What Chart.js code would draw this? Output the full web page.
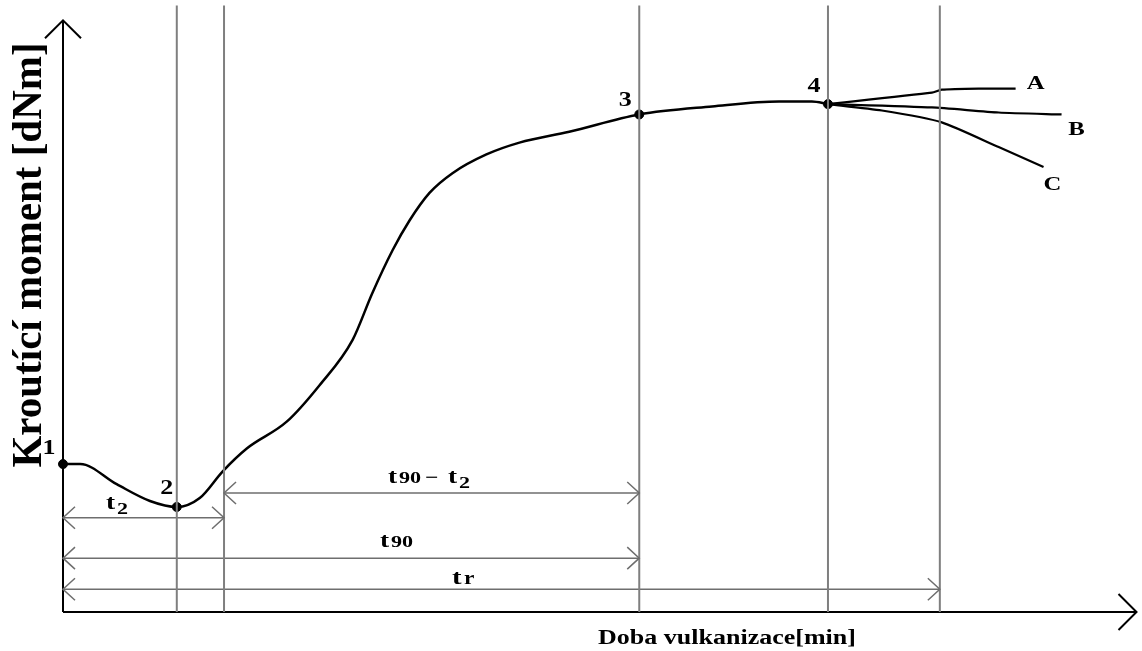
<!DOCTYPE html>
<html lang="cs">
<head>
<meta charset="UTF-8">
<title>Vulkanizační křivka</title>
<style>
    html, body { margin: 0; padding: 0; background: #fff; }
    #wrap { width: 1142px; height: 651px; }
</style>
</head>
<body>
<div id="wrap"><canvas id="curve" width="1142" height="651"></canvas></div>
<script src="https://cdn.jsdelivr.net/npm/chart.js"></script>
<script>
// schematic rheometer curve, time [min] vs torque [dNm]
const timeMain   = [0, 0.8, 2.5, 4.05, 5.3, 6.37, 7.44, 8.56, 10.42, 11.95, 13.49, 14.4, 15.35, 16.14, 17.07, 18.14, 19.72, 21.26, 23.58, 26.84, 30.23, 33.35, 34.88, 35.63];
const torqueMain = [15.0, 15.0, 12.96, 11.26, 10.65, 11.56, 14.27, 16.58, 19.3, 23.0, 27.6, 32.3, 36.68, 39.7, 42.5, 44.5, 46.4, 47.6, 48.7, 50.45, 51.26, 51.76, 51.76, 51.5];

// reversion branches after point 4
const timeA   = [35.63, 40.47, 40.93, 42.65, 44.37];
const torqueA = [51.5, 52.66, 52.96, 53.07, 53.07];
const timeB   = [35.63, 40.47, 43.58, 46.51];
const torqueB = [51.5, 51.16, 50.65, 50.45];
const timeC   = [35.63, 38.14, 40.93, 43.58, 45.67];
const torqueC = [51.5, 50.85, 49.65, 47.14, 45.13];

// marked points 1..4
const pointNames  = ['1', '2', '3', '4'];
const pointTime   = [0, 5.3, 26.84, 35.63];
const pointTorque = [15.0, 10.65, 50.45, 51.5];

// vertical guide lines (min)
const guideTimes = [5.3, 7.5, 26.84, 35.63, 40.84];

// dimension arrows
const dimNames = ['t2', 't90-t2', 't90', 'tr'];
const dimStart = [0, 7.5, 0, 0];
const dimEnd   = [7.5, 26.84, 26.84, 40.84];
const dimLevel = [9.55, 12.06, 5.46, 2.31];

const branchNames = ['A', 'B', 'C'];

const xMax = 50, yMax = 61.5, yAxisTop = 60;

function pts(xs, ys) {
    return xs.map((x, i) => ({ x: x, y: ys[i] }));
}

const datasets = [];

guideTimes.forEach(t => {
    datasets.push({
        data: [{ x: t, y: 0 }, { x: t, y: yMax }],
        borderColor: '#7f7f7f', borderWidth: 2, pointRadius: 0, clip: false
    });
});

dimNames.forEach((n, i) => {
    datasets.push({
        data: [{ x: dimStart[i], y: dimLevel[i] }, { x: dimEnd[i], y: dimLevel[i] }],
        borderColor: '#6e6e6e', borderWidth: 1.5, pointRadius: 0, clip: false
    });
});

// axes
datasets.push({ data: [{ x: 0, y: 0 }, { x: 0, y: yAxisTop }], borderColor: '#000', borderWidth: 2, pointRadius: 0, clip: false });
datasets.push({ data: [{ x: 0, y: 0 }, { x: xMax, y: 0 }], borderColor: '#000', borderWidth: 2, pointRadius: 0, clip: false });

datasets.push({ data: pts(timeMain, torqueMain), borderColor: '#000', borderWidth: 2.5, pointRadius: 0, cubicInterpolationMode: 'monotone', clip: false });
datasets.push({ data: pts(timeA, torqueA), borderColor: '#000', borderWidth: 2.2, pointRadius: 0, tension: 0.2, clip: false });
datasets.push({ data: pts(timeB, torqueB), borderColor: '#000', borderWidth: 2.2, pointRadius: 0, tension: 0.2, clip: false });
datasets.push({ data: pts(timeC, torqueC), borderColor: '#000', borderWidth: 2.2, pointRadius: 0, tension: 0.2, clip: false });

datasets.push({
    data: pts(pointTime, pointTorque), showLine: false,
    pointRadius: 4.5, pointBackgroundColor: '#000', pointBorderColor: '#000', clip: false
});

function chevron(ctx, x, y, dir, len, half) {
    ctx.beginPath();
    if (dir === 'l') { ctx.moveTo(x + len, y - half); ctx.lineTo(x, y); ctx.lineTo(x + len, y + half); }
    if (dir === 'r') { ctx.moveTo(x - len, y - half); ctx.lineTo(x, y); ctx.lineTo(x - len, y + half); }
    if (dir === 'u') { ctx.moveTo(x - half, y + len); ctx.lineTo(x, y); ctx.lineTo(x + half, y + len); }
    ctx.stroke();
}

function stretchText(ctx, txt, x, y, size, align) {
    ctx.save();
    ctx.translate(x, y);
    ctx.scale(1.3, 1);
    ctx.font = 'bold ' + size + 'px "Liberation Serif", "Times New Roman", serif';
    ctx.textAlign = align || 'center';
    ctx.textBaseline = 'alphabetic';
    ctx.fillText(txt, 0, 0);
    ctx.restore();
}

const decor = {
    id: 'decor',
    afterDatasetsDraw(chart) {
        const ctx = chart.ctx;
        const xs = chart.scales.x, ys = chart.scales.y;
        const px = v => xs.getPixelForValue(v), py = v => ys.getPixelForValue(v);
        ctx.save();

        // axis arrows
        ctx.strokeStyle = '#000'; ctx.lineWidth = 2;
        chevron(ctx, px(0), py(yAxisTop), 'u', 18, 18);
        chevron(ctx, px(xMax), py(0), 'r', 18, 18);

        // dimension arrow heads
        ctx.strokeStyle = '#6e6e6e'; ctx.lineWidth = 1.5;
        dimNames.forEach((n, i) => {
            chevron(ctx, px(dimStart[i]), py(dimLevel[i]), 'l', 12, 11);
            chevron(ctx, px(dimEnd[i]), py(dimLevel[i]), 'r', 12, 11);
        });

        ctx.fillStyle = '#000';
        // point numbers
        const off = [[-14, -10], [-10, -13], [-14, -8], [-14, -12]];
        pointNames.forEach((n, i) => {
            stretchText(ctx, n, px(pointTime[i]) + off[i][0], py(pointTorque[i]) + off[i][1], 20);
        });

        // branch letters
        const ends = [[timeA, torqueA, 20, 0], [timeB, torqueB, 15, 21], [timeC, torqueC, 9, 23]];
        branchNames.forEach((n, i) => {
            const e = ends[i];
            const k = e[0].length - 1;
            stretchText(ctx, n, px(e[0][k]) + e[2], py(e[1][k]) + e[3], 19);
        });

        // dimension texts
        const yT2 = py(dimLevel[0]) - 9;
        stretchText(ctx, 't', 106, yT2, 21, 'left');
        stretchText(ctx, '2', 117, yT2 + 5, 17, 'left');
        const y1 = py(dimLevel[1]) - 10;
        stretchText(ctx, 't', 388, y1, 21, 'left');
        stretchText(ctx, '90', 399, y1, 17, 'left');
        stretchText(ctx, '\u2212', 425, y1, 18, 'left');
        stretchText(ctx, 't', 448, y1, 21, 'left');
        stretchText(ctx, '2', 459, y1 + 5, 17, 'left');
        const y2 = py(dimLevel[2]) - 11;
        stretchText(ctx, 't', 380, y2, 21, 'left');
        stretchText(ctx, '90', 391, y2, 17, 'left');
        const y3 = py(dimLevel[3]) - 5;
        stretchText(ctx, 't', 452, y3, 22, 'left');
        stretchText(ctx, 'r', 464, y3, 18, 'left');

        // axis titles
        stretchText(ctx, 'Doba vulkanizace[min]', 727, 644, 20);
        ctx.save();
        ctx.translate(30, 255);
        ctx.scale(1.05, 1);
        ctx.rotate(-Math.PI / 2);
        ctx.font = 'bold 41px "Liberation Serif", "Times New Roman", serif';
        ctx.textAlign = 'center';
        ctx.textBaseline = 'middle';
        ctx.fillText('Kroutící moment [dNm]', 0, 0);
        ctx.restore();

        ctx.restore();
    }
};

new Chart(document.getElementById('curve').getContext('2d'), {
    type: 'scatter',
    data: { datasets: datasets.map(d => Object.assign({ showLine: true, fill: false }, d)) },
    options: {
        responsive: false,
        animation: false,
        devicePixelRatio: 1,
        layout: { padding: { left: 63, right: 4, top: 0, bottom: 39 } },
        plugins: { legend: { display: false }, tooltip: { enabled: false } },
        scales: {
            x: { type: 'linear', min: 0, max: xMax, display: false },
            y: { type: 'linear', min: 0, max: yMax, display: false }
        }
    },
    plugins: [decor]
});
</script>
</body>
</html>
